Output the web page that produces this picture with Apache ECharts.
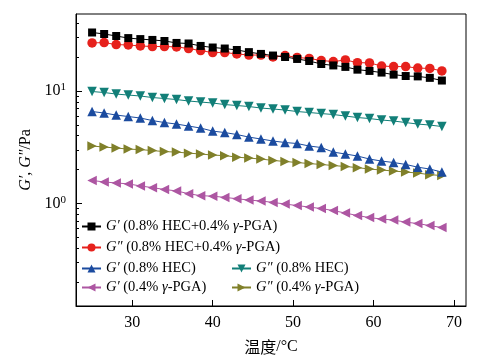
<!DOCTYPE html>
<html><head><meta charset="utf-8">
<script src="https://cdn.jsdelivr.net/npm/echarts@6/dist/echarts.min.js"></script>
<style>html,body{margin:0;padding:0;background:#fff}#c{width:483px;height:360px}</style>
</head><body><div id="c"></div>
<script>
// ---- data ----
const temperature = [25, 26.5, 28, 29.5, 31, 32.5, 34, 35.5, 37, 38.5, 40, 41.5, 43, 44.5, 46, 47.5, 49, 50.5, 52, 53.5, 55, 56.5, 58, 59.5, 61, 62.5, 64, 65.5, 67, 68.5];
const gStorageMix = [33.2, 32.2, 30.9, 29.6, 29.0, 28.5, 27.9, 26.8, 26.5, 25.2, 24.4, 23.9, 23.2, 22.2, 21.4, 20.7, 20.1, 19.3, 18.5, 17.4, 16.9, 16.4, 15.5, 15.1, 14.6, 14.0, 13.6, 13.5, 13.1, 12.4];
const gLossMix = [26.8, 27.0, 25.9, 25.7, 25.2, 24.9, 24.9, 24.7, 23.9, 22.9, 22.0, 22.0, 21.4, 20.9, 20.9, 20.1, 20.7, 19.9, 19.5, 18.7, 18.3, 18.9, 17.9, 17.8, 16.7, 16.5, 16.5, 16.0, 15.9, 15.1];
const gStorageHEC = [6.57, 6.37, 6.11, 5.93, 5.75, 5.46, 5.24, 5.08, 4.88, 4.68, 4.40, 4.27, 4.10, 3.89, 3.74, 3.59, 3.48, 3.41, 3.24, 3.14, 2.86, 2.75, 2.64, 2.48, 2.38, 2.31, 2.22, 2.10, 2.02, 1.90];
const gLossHEC = [9.90, 9.70, 9.40, 9.21, 9.03, 8.75, 8.58, 8.40, 8.15, 7.98, 7.82, 7.58, 7.43, 7.28, 7.06, 6.92, 6.77, 6.57, 6.44, 6.30, 6.18, 5.99, 5.81, 5.69, 5.52, 5.41, 5.24, 5.08, 4.98, 4.83];
const gStoragePGA = [1.60, 1.55, 1.52, 1.49, 1.43, 1.38, 1.33, 1.29, 1.22, 1.17, 1.16, 1.13, 1.10, 1.07, 1.05, 1.02, 0.986, 0.956, 0.927, 0.899, 0.863, 0.820, 0.779, 0.747, 0.725, 0.710, 0.681, 0.661, 0.634, 0.609];
const gLossPGA = [3.24, 3.17, 3.11, 3.04, 3.01, 2.95, 2.89, 2.86, 2.80, 2.75, 2.69, 2.66, 2.58, 2.53, 2.48, 2.41, 2.36, 2.31, 2.26, 2.22, 2.17, 2.13, 2.08, 2.02, 1.98, 1.94, 1.90, 1.86, 1.80, 1.77];

const seriesNames = [
  'G′ (0.8% HEC+0.4% γ-PGA)',
  'G″ (0.8% HEC+0.4% γ-PGA)',
  'G′ (0.8% HEC)',
  'G″ (0.8% HEC)',
  'G′ (0.4% γ-PGA)',
  'G″ (0.4% γ-PGA)'
];
const xTickValues = [30, 40, 50, 60, 70];
const xRange = [23, 71.5];
const yMajorTicks = [1, 10];
const yMinorTicks = [0.2, 0.3, 0.4, 0.5, 0.6, 0.7, 0.8, 0.9, 2, 3, 4, 5, 6, 7, 8, 9, 20, 30, 40];
const yRange = [0.122, 48.5];

// ---- styling ----
const serif = '"Liberation Serif", "Times New Roman", serif';
const colors = ['#000000', '#e6211c', '#1b4b9f', '#127f78', '#ad56a2', '#80802a'];
const symbols = ['rect', 'circle', 'triangle', 'triangle', 'triangle', 'triangle'];
const rotations = [0, 0, 0, 180, 90, -90];
const sizes = [8, 9.5, 9.5, 9.5, 9.5, 9.5];
const values = [gStorageMix, gLossMix, gStorageHEC, gLossHEC, gStoragePGA, gLossPGA];

const lg = v => Math.log10(v);

const series = values.map((vals, k) => ({
  name: seriesNames[k],
  type: 'line',
  xAxisIndex: 0, yAxisIndex: 0,
  data: temperature.map((t, i) => [t, lg(vals[i])]),
  symbol: symbols[k],
  symbolSize: sizes[k],
  symbolRotate: rotations[k],
  showAllSymbol: true,
  color: colors[k],
  lineStyle: { width: 1, color: colors[k] },
  itemStyle: { color: colors[k] },
  animation: false,
  z: 10 - k
}));

const legendPos = [[81, 219], [81, 240], [81, 261], [231, 261], [81, 280], [231, 280]];
const legends = seriesNames.map((n, k) => ({
  data: [n],
  left: legendPos[k][0], top: legendPos[k][1],
  padding: 0,
  itemWidth: 19, itemHeight: 10,
  selectedMode: false,
  formatter: name => name.replace(/^(G[′″])/, '{i|$1}').replace('γ', '{i|γ}'),
  textStyle: {
    fontFamily: serif, fontSize: 14.5, color: '#000',
    rich: { i: { fontFamily: serif, fontSize: 14.5, fontStyle: 'italic', color: '#000' } }
  }
}));

const chart = echarts.init(document.getElementById('c'), null, { renderer: 'canvas' });
chart.setOption({
  animation: false,
  backgroundColor: '#fff',
  grid: { left: 76, right: 17, top: 14, bottom: 54, show: true, borderColor: '#000', borderWidth: 1, backgroundColor: 'transparent' },
  legend: legends,
  xAxis: [{
    type: 'value', min: xRange[0], max: xRange[1],
    name: '{c|温度}/°C', nameLocation: 'middle', nameGap: 33,
    nameTextStyle: { fontFamily: serif, fontSize: 16, color: '#000',
      rich: { c: { fontFamily: '"Noto Sans CJK SC", sans-serif', fontSize: 16, color: '#000' } } },
    splitLine: { show: false },
    axisLine: { show: true, onZero: false, lineStyle: { color: '#000', width: 1 } },
    axisTick: { show: true, inside: true, length: 6, customValues: xTickValues, lineStyle: { color: '#000', width: 1 } },
    axisLabel: { customValues: xTickValues, fontFamily: serif, fontSize: 16, color: '#000', margin: 9 }
  }],
  yAxis: [{
    type: 'value', min: lg(yRange[0]), max: lg(yRange[1]),
    name: '{i|G′}, {i|G″}/Pa', nameLocation: 'middle', nameGap: 42, nameRotate: 90,
    nameTextStyle: { fontFamily: serif, fontSize: 16, color: '#000',
      rich: { i: { fontFamily: serif, fontSize: 16, fontStyle: 'italic', color: '#000' } } },
    splitLine: { show: false },
    axisLine: { show: true, onZero: false, lineStyle: { color: '#000', width: 1 } },
    axisTick: { show: true, inside: true, length: 6, customValues: yMajorTicks.map(lg), lineStyle: { color: '#000', width: 1 } },
    axisLabel: {
      customValues: yMajorTicks.map(lg), margin: 10,
      formatter: v => '{b|10}{s|' + Math.round(v) + '}',
      rich: {
        b: { fontFamily: serif, fontSize: 16, color: '#000' },
        s: { fontFamily: serif, fontSize: 11, color: '#000', padding: [0, 0, 7, 0] }
      }
    }
  }, {
    type: 'value', min: lg(yRange[0]), max: lg(yRange[1]), position: 'left',
    splitLine: { show: false },
    axisLine: { show: false },
    axisTick: { show: true, inside: true, length: 3, customValues: yMinorTicks.map(lg), lineStyle: { color: '#000', width: 1 } },
    axisLabel: { show: false }
  }],
  series: series
});
</script>
</body></html>
